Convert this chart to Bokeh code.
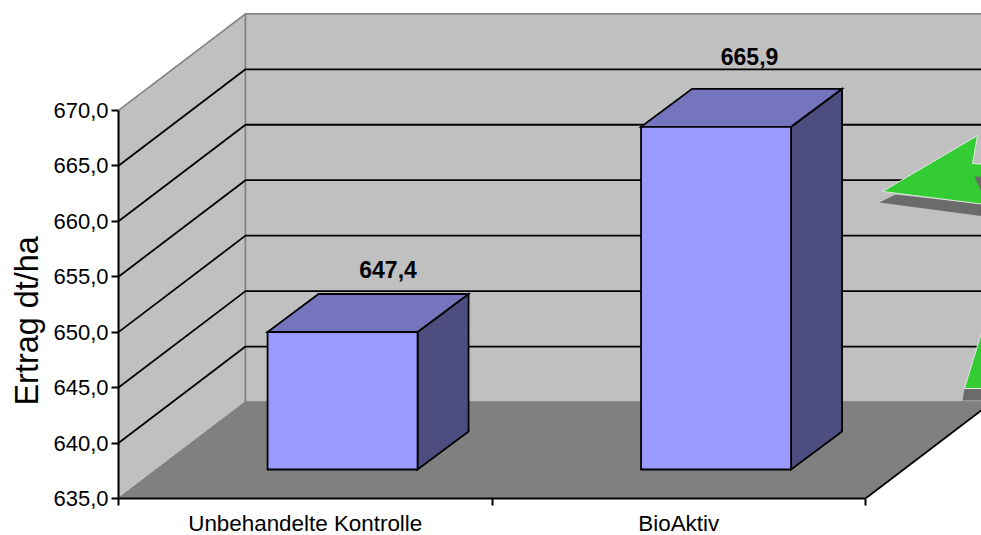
from bokeh.plotting import figure
from bokeh.models import ColumnDataSource, FixedTicker, Title
from bokeh.core.properties import value
from bokeh.embed import file_html
from bokeh.resources import INLINE

categories = ["Unbehandelte Kontrolle", "BioAktiv"]
ertrag = [647.4, 665.9]
y_ticks = [635, 640, 645, 650, 655, 660, 665, 670]
y_tick_labels = ["635,0", "640,0", "645,0", "650,0", "655,0", "660,0", "665,0", "670,0"]
axis_title = "Ertrag dt/ha"

FONT = "Liberation Sans"
PX_PER_CAT = 373.5
PX_PER_UNIT = 11.09
FRAME_W, FRAME_H = 863, 498
Y0, Y1 = y_ticks[0], y_ticks[-1]
N = len(categories)

# oblique projection of the 3D box, expressed in data units
def px_x(v): return v / PX_PER_CAT
def px_y(v): return v / PX_PER_UNIT
DX, DY = px_x(127), px_y(96.5)             # wall depth
SX, SY = px_x(37.3), px_y(29)              # bar's front plane offset
BX, BY = px_x(51), px_y(38)                # bar depth
BAR_W = px_x(150)

# page pixel -> data, for the decorations that carry no data
def page_x(v): return (v - 118) / PX_PER_CAT
def page_y(v): return Y0 + (498 - v) / PX_PER_UNIT

p = figure(width=981, height=535, output_backend="svg", toolbar_location=None,
           x_range=(0, FRAME_W / PX_PER_CAT), y_range=(Y0, Y0 + FRAME_H / PX_PER_UNIT),
           frame_width=FRAME_W, frame_height=FRAME_H,
           min_border_left=118, min_border_right=0, min_border_top=0, min_border_bottom=37,
           x_axis_location="below", y_axis_location="left", outline_line_color=None,
           background_fill_color="white", border_fill_color="white")
p.grid.visible = False

WALL, FLOOR, EDGE = "#C0C0C0", "#808080", "#808080"
XEND = N + DX
LW = 1.8

# walls and floor
p.patch([0, 0, DX, DX], [Y0, Y1, Y1 + DY, Y0 + DY], fill_color=WALL, line_color=EDGE, line_width=1.5)
p.patch([DX, DX, XEND, XEND], [Y0 + DY, Y1 + DY, Y1 + DY, Y0 + DY], fill_color=WALL, line_color=EDGE, line_width=1.5)
p.patch([0, N, XEND, DX], [Y0, Y0, Y0 + DY, Y0 + DY], fill_color=FLOOR, line_color=FLOOR, line_width=1)
p.line([N, XEND], [Y0, Y0 + DY], line_color="black", line_width=LW)

# gridlines
for t in y_ticks[1:-1]:
    p.line([0, DX, XEND], [t, t + DY, t + DY], line_color="black", line_width=LW)

# decorative green arrows, cut by the edge of the picture
def poly(pts, fill, line=None):
    p.patch([page_x(a) for a, _ in pts], [page_y(c) for _, c in pts],
            fill_color=fill, line_color=line, line_width=1)
SHADOW = "#6B6B6B"
GREEN = "#33CC33"
RIM = "#E0E8E0"
poly([(879, 202), (895, 194), (985, 204), (985, 216)], SHADOW)
poly([(882, 191), (977, 135), (972, 163), (985, 164), (985, 204)], GREEN, RIM)
poly([(974, 176), (985, 176), (985, 192), (981, 192)], SHADOW)
poly([(962, 400), (964, 388), (985, 388), (985, 400)], SHADOW)
poly([(964, 388), (981, 332), (985, 320), (985, 388)], GREEN, RIM)

# bars
for i, v in enumerate(ertrag):
    cx = i + 0.5 + SX
    l, r = cx - BAR_W / 2, cx + BAR_W / 2
    b = Y0 + SY
    top = v + SY
    p.patch([r, r, r + BX, r + BX], [b, top, top + BY, b + BY],
            fill_color="#4D4D80", line_color="black", line_width=LW, line_join="miter")
    p.patch([l, r, r + BX, l + BX], [top, top, top + BY, top + BY],
            fill_color="#7575BD", line_color="black", line_width=LW, line_join="miter")
    p.patch([l, r, r, l], [b, b, top, top],
            fill_color="#9999FF", line_color="black", line_width=LW, line_join="miter")

# value labels, above the bars' back edges
label_src = ColumnDataSource(dict(
    x=[i + 0.5 + SX + BX / 2 for i in range(N)],
    y=[v + SY + BY for v in ertrag],
    t=[f"{v:.1f}".replace(".", ",") for v in ertrag],
    xo=[20, 8],
    yo=[-24, -32],
))
p.text("x", "y", text="t", source=label_src, x_offset="xo", y_offset="yo",
       text_font=value(FONT), text_font_style="bold", text_font_size="23px",
       text_align="center", text_baseline="middle", text_color="#000000")

# axis title, placed low on the axis as in the reference
p.add_layout(Title(text=axis_title, align="left", offset=93, standoff=12,
                   text_font=FONT, text_font_size="32.4px", text_font_style="normal",
                   text_color="#000000"), "left")

# axes
ya = p.yaxis[0]
ya.bounds = (Y0, Y1)
ya.ticker = FixedTicker(ticks=y_ticks)
ya.major_label_overrides = dict(zip(y_ticks, y_tick_labels))
ya.axis_line_color = "black"
ya.axis_line_width = 2
ya.major_tick_line_color = "black"
ya.major_tick_line_width = 2
ya.major_tick_out = 7
ya.major_tick_in = 0
ya.minor_tick_line_color = None
ya.major_label_standoff = 3
ya.major_label_text_font = FONT
ya.major_label_text_font_size = "22px"
ya.major_label_text_color = "#000000"

xa = p.xaxis[0]
xa.bounds = (0, N)
xa.ticker = FixedTicker(ticks=[i + 0.5 for i in range(N)], minor_ticks=list(range(N + 1)))
xa.major_label_overrides = {i + 0.5: c for i, c in enumerate(categories)}
xa.axis_line_color = "black"
xa.axis_line_width = 2
xa.major_tick_line_color = None
xa.major_tick_in = 0
xa.major_tick_out = 0
xa.minor_tick_line_color = "black"
xa.minor_tick_line_width = 2
xa.minor_tick_in = 0
xa.minor_tick_out = 7
xa.major_label_standoff = 5
xa.major_label_text_font = FONT
xa.major_label_text_font_size = "22.4px"
xa.major_label_text_color = "#000000"

open("out.html", "w").write(file_html(p, INLINE))
